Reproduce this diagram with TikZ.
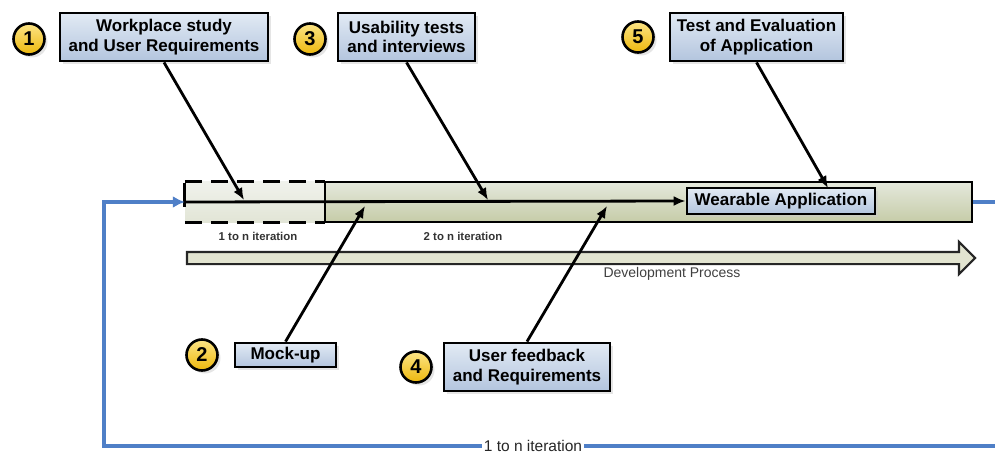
\documentclass[tikz,border=0pt]{standalone}
\usepackage{fontspec}
\setmainfont{Liberation Sans}
\usetikzlibrary{shadows,shapes.arrows,arrows.meta}

\definecolor{boxtop}{HTML}{E2EAF4}
\definecolor{boxbot}{HTML}{B3C5DE}
\definecolor{badgetop}{HTML}{FCE486}
\definecolor{badgebot}{HTML}{EDB80C}
\definecolor{bartop}{HTML}{E4E8DC}
\definecolor{barbot}{HTML}{C6CCA8}
\definecolor{ghosttop}{HTML}{F0F2EC}
\definecolor{ghostbot}{HTML}{E2E5D6}
\definecolor{loopblue}{HTML}{4F7FC7}
\definecolor{devfill}{HTML}{E2E4D0}

\begin{document}
\begin{tikzpicture}[x=10pt,y=10pt]
\tikzstyle{every node}+=[inner sep=0pt]
\tikzstyle{task}=[draw=black, line width=2.8pt, top color=boxtop, bottom color=boxbot, align=center, font=\fontsize{17}{19.5}\selectfont\bfseries, drop shadow={shadow xshift=3pt, shadow yshift=-3pt, fill=black!20}]
\tikzstyle{num}=[circle, draw=black, line width=2.6pt, top color=badgetop, bottom color=badgebot, minimum size=31pt, font=\fontsize{20}{20}\selectfont\bfseries, drop shadow={shadow xshift=3pt, shadow yshift=-3pt, fill=black!20}]
\tikzstyle{link}=[draw=black, line width=2.8pt, -{Latex[length=12pt,width=10pt]}]
\tikzstyle{iterlabel}=[font=\fontsize{11.4}{13}\selectfont\bfseries, text=black!80]
\useasboundingbox (0,0) rectangle (99.5,-45.7);
% tasks along the top
\node[num] (n1) at (2.9,-3.9) {1};
\node[task, minimum width=208pt, minimum height=48pt] (study) at (16.4,-3.7) {Workplace study\\and User Requirements};
\node[num] (n3) at (31.0,-3.9) {3};
\node[task, minimum width=137pt, minimum height=48pt] (tests) at (40.65,-3.7) {Usability tests\\and interviews};
\node[num] (n5) at (63.8,-3.7) {5};
\node[task, minimum width=173pt, minimum height=48pt] (eval) at (75.65,-3.7) {Test and Evaluation\\of Application};
% iteration bar
\node[top color=ghosttop, bottom color=ghostbot, minimum width=140pt, minimum height=40pt] (ghost) at (25.5,-20.2) {};
\draw[line width=2.8pt, dash pattern=on 17pt off 9pt] (ghost.north west) -- (ghost.north east);
\draw[line width=2.8pt, dash pattern=on 17pt off 9pt] (ghost.south west) -- (ghost.south east);
\node[draw=black, line width=2.8pt, top color=bartop, bottom color=barbot, minimum width=647pt, minimum height=40pt] (bar) at (64.85,-20.2) {};
\node[task, minimum width=188pt, minimum height=26pt] (app) at (78.1,-20.1) {Wearable Application};
\draw[link] (ghost.west) -- (app.west);
\draw[line width=2.8pt] ([yshift=19pt]ghost.west) -- ([yshift=-5pt]ghost.west);
\node[iterlabel] (it1) at (25.8,-23.6) {1 to n iteration};
\node[iterlabel] (it2) at (46.3,-23.6) {2 to n iteration};
% development process
\node[single arrow, draw=black!85, line width=2.2pt, fill=devfill, inner sep=5pt, single arrow head extend=10pt, minimum width=30pt, minimum height=788pt] (dev) at (57.8,-25.8) {};
\node[font=\fontsize{14}{16}\selectfont, text=black!75] (devtxt) at (67.2,-27.4) {Development Process};
% tasks below
\node[num] (n2) at (20.2,-35.5) {2};
\node[task, minimum width=101pt, minimum height=24pt] (mock) at (28.55,-35.5) {Mock-up};
\node[num] (n4) at (41.6,-36.7) {4};
\node[task, minimum width=166pt, minimum height=48pt] (feedback) at (52.7,-36.7) {User feedback\\and Requirements};
% outer loop
\coordinate (c1) at (100.5,-20.2);
\coordinate (c2) at (100.5,-44.6);
\coordinate (c3) at (10.4,-44.6);
\coordinate (c4) at (10.4,-20.2);
\draw[loopblue, line width=3.6pt, -{Latex[length=12pt,width=12pt]}] (bar.east) -- (c1) -- (c2) -- (c3) -- (c4) -- (ghost.west);
\node[fill=white, inner xsep=2pt, inner ysep=0pt, font=\fontsize{15.5}{16}\selectfont, text=black!85] (it0) at (53.3,-44.6) {1 to n iteration};
% arrows into the bar
\coordinate (in1) at (24.4,-20.0);
\coordinate (in3) at (48.8,-20.0);
\coordinate (in5) at (82.8,-18.8);
\coordinate (in2) at (36.5,-20.6);
\coordinate (in4) at (60.7,-20.6);
\draw[link] (study.south) -- (in1);
\draw[link] (tests.south) -- (in3);
\draw[link] (eval.south) -- (in5);
\draw[link] (mock.north) -- (in2);
\draw[link] (feedback.north) -- (in4);
\end{tikzpicture}
\end{document}
